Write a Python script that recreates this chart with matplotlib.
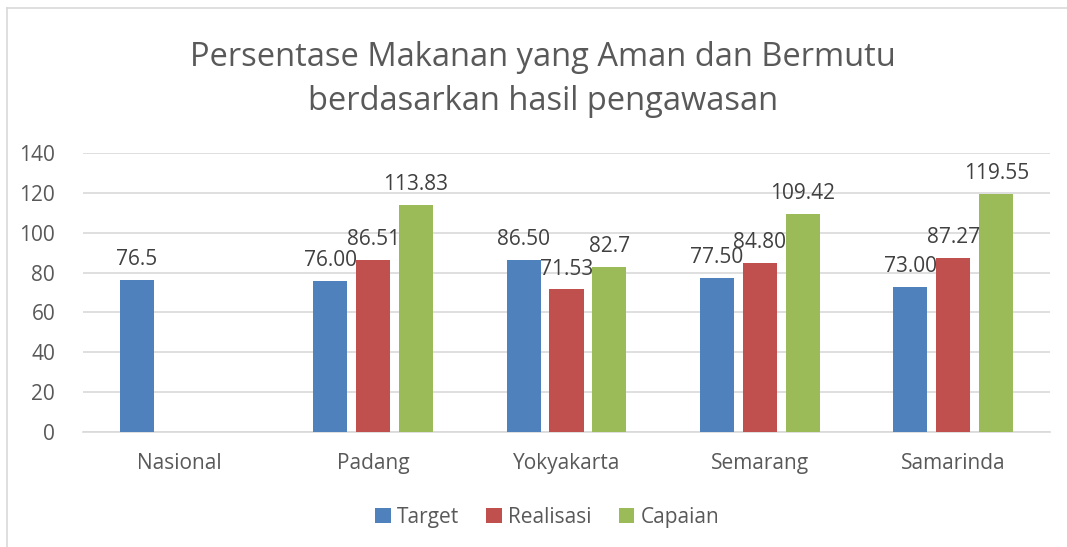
import matplotlib.pyplot as plt
from matplotlib.lines import Line2D
import numpy as np

plt.rcParams['font.family'] = ['Open Sans', 'DejaVu Sans']

# data
kota = ['Nasional', 'Padang', 'Yokyakarta', 'Semarang', 'Samarinda']
target = [76.5, 76.00, 86.50, 77.50, 73.00]
realisasi = [None, 86.51, 71.53, 84.80, 87.27]
capaian = [None, 113.83, 82.7, 109.42, 119.55]
label_target = ['76.5', '76.00', '86.50', '77.50', '73.00']
label_realisasi = [None, '86.51', '71.53', '84.80', '87.27']
label_capaian = [None, '113.83', '82.7', '109.42', '119.55']

warna = ['#4F81BD', '#C0504D', '#9BBB59']
teks = '#595959'

fig = plt.figure(figsize=(10.67, 5.47), dpi=100)
ax = fig.add_axes([83/1067, 115/547, 967/1067, 279/547])

x = np.arange(len(kota))
lebar = 0.176
jarak = 0.222

seri = [('Target', target, label_target),
        ('Realisasi', realisasi, label_realisasi),
        ('Capaian', capaian, label_capaian)]

for i, (nama, nilai, label) in enumerate(seri):
    pos = x + (i - 1) * jarak
    tinggi = [v if v is not None else 0 for v in nilai]
    ax.bar(pos, tinggi, lebar, color=warna[i], label=nama, zorder=3)
    for p, v, lab in zip(pos, nilai, label):
        if v is None:
            continue
        ax.annotate(lab, (p, v), xytext=(0, 7), textcoords='offset points',
                    ha='center', va='bottom', fontsize=15, color='#404040', zorder=4)

ax.set_xlim(-0.5, len(kota) - 0.5)
ax.set_ylim(0, 140)
ax.set_yticks(range(0, 141, 20))
ax.set_xticks(x)
ax.set_xticklabels(kota)
ax.grid(axis='y', color='#D9D9D9', linewidth=1.2, zorder=0)
for s in ['top', 'right', 'left']:
    ax.spines[s].set_visible(False)
ax.spines['bottom'].set_color('#D9D9D9')
ax.spines['bottom'].set_linewidth(1.2)
ax.tick_params(axis='both', length=0, labelsize=15, labelcolor=teks)
ax.tick_params(axis='x', pad=15)
ax.tick_params(axis='y', pad=20)

fig.text(0.509, 0.855, 'Persentase Makanan yang Aman dan Bermutu\nberdasarkan hasil pengawasan',
         ha='center', va='center', fontsize=23.5, color=teks, linespacing=1.45)

ax.legend(loc='upper center', bbox_to_anchor=(0.48, -0.2), ncol=3, frameon=False,
          fontsize=15, labelcolor=teks, handlelength=0.75, handleheight=0.75,
          handletextpad=0.3, columnspacing=1.3)

# bingkai grafik
fig.add_artist(Line2D([7/1067, 7/1067], [0, 1 - 8/547], color='#D9D9D9', linewidth=1.2))
fig.add_artist(Line2D([7/1067, 1], [1 - 8/547, 1 - 8/547], color='#D9D9D9', linewidth=1.2))

fig.savefig('out.png', dpi=100)
